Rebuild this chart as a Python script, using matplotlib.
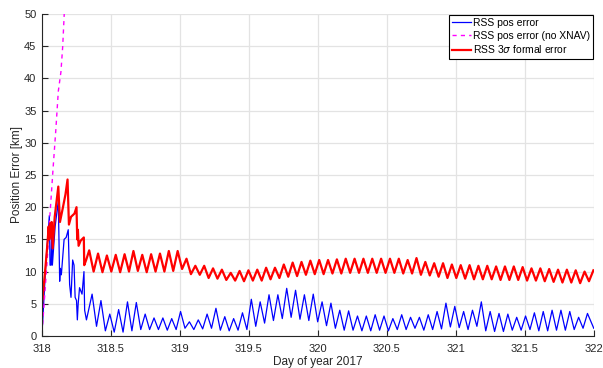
import matplotlib.pyplot as plt

plt.rcParams['font.family'] = ['Liberation Sans', 'DejaVu Sans']
plt.rcParams['mathtext.fontset'] = 'dejavusans'

ORBIT = 0.06413  # days per orbit

# start-up transient, read point by point
red_init_t = [318.000, 318.020, 318.040, 318.048, 318.053, 318.058, 318.064, 318.070,
              318.077, 318.092, 318.106, 318.118, 318.130, 318.150, 318.170, 318.185,
              318.195, 318.210, 318.235, 318.250, 318.255, 318.260, 318.265, 318.280,
              318.303, 318.306, 318.320]
red_init_v = [5.0, 9.5, 14.5, 17.0, 15.0, 17.5, 15.5, 17.7,
              13.6, 18.5, 21.0, 23.2, 17.7, 19.8, 22.0, 24.3,
              17.3, 18.5, 19.0, 20.0, 15.0, 16.5, 14.0, 14.8,
              15.3, 11.0, 11.8]

blue_init_t = [318.000, 318.012, 318.030, 318.045, 318.053, 318.058, 318.066, 318.070,
               318.075, 318.095, 318.118, 318.128, 318.133, 318.140, 318.160, 318.175,
               318.190, 318.200, 318.210, 318.222, 318.232, 318.240, 318.250, 318.256,
               318.262, 318.272, 318.290, 318.304, 318.309, 318.322]
blue_init_v = [0.5, 5.0, 12.0, 16.5, 18.7, 11.0, 11.0, 17.0,
               11.0, 17.0, 21.0, 8.5, 10.5, 9.5, 15.0, 15.3,
               16.5, 8.0, 6.0, 11.8, 11.0, 6.0, 5.5, 2.5,
               5.0, 7.5, 6.5, 10.0, 4.0, 2.5]

# per-orbit maxima / minima after the transient
red_start = 318.342
red_peaks = [13.3, 12.8, 12.5, 12.6, 12.7, 13.2, 12.6, 12.7, 12.8, 13.2,
             13.2, 12.0, 10.9, 10.9, 10.5, 10.3, 9.8, 10.1, 10.2, 10.3,
             10.6, 10.6, 11.1, 11.4, 11.5, 11.7, 11.8, 11.8, 11.9, 12.0,
             12.0, 12.0, 12.0, 12.0, 12.0, 12.0, 11.8, 12.1, 11.5, 11.3,
             11.3, 11.1, 11.0, 11.0, 10.9, 10.9, 10.8, 10.8, 10.8, 10.7,
             10.5, 10.5, 10.4, 10.3, 10.3, 10.2, 10.0, 10.2]
red_troughs = [10.0, 9.9, 10.0, 9.9, 10.0, 10.1, 9.9, 10.0, 10.0, 10.1,
               10.4, 9.6, 9.5, 9.0, 8.9, 8.7, 8.6, 8.5, 8.6, 8.6,
               8.8, 9.0, 9.2, 9.3, 9.5, 9.6, 9.6, 9.7, 9.7, 9.8,
               9.8, 9.8, 9.8, 9.8, 9.8, 9.7, 9.7, 9.5, 9.4, 9.2,
               9.0, 9.0, 8.9, 8.8, 8.8, 8.8, 8.7, 8.7, 8.7, 8.6,
               8.6, 8.5, 8.4, 8.3, 8.3, 8.2, 8.5]

blue_start = 318.363
blue_peaks = [6.5, 5.5, 3.4, 4.1, 5.3, 5.2, 3.4, 2.8, 2.8, 2.7,
              3.8, 2.2, 2.5, 3.4, 4.3, 3.0, 2.7, 3.6, 5.7, 5.3,
              6.4, 6.4, 7.4, 7.1, 6.4, 6.5, 5.3, 5.1, 4.0, 3.9,
              3.1, 3.1, 3.3, 3.1, 2.7, 3.3, 2.9, 2.9, 3.3, 3.8,
              5.1, 4.6, 3.8, 4.0, 5.3, 3.8, 3.5, 3.4, 2.9, 3.1,
              3.6, 3.8, 4.0, 4.0, 3.8, 2.9, 3.5]
blue_troughs = [1.5, 0.8, 0.6, 0.6, 0.8, 1.0, 1.0, 1.0, 0.9, 1.0,
                1.2, 1.0, 1.1, 1.2, 0.9, 0.8, 0.9, 1.0, 1.5, 2.0,
                2.4, 2.7, 2.9, 2.6, 2.4, 2.2, 1.6, 1.2, 0.9, 0.9,
                0.8, 0.8, 0.9, 0.8, 1.0, 1.0, 1.2, 0.9, 1.0, 1.1,
                1.4, 1.3, 1.0, 1.5, 0.8, 0.7, 0.7, 0.9, 0.9, 1.0,
                0.8, 0.8, 0.9, 0.9, 1.0, 1.2]
blue_end_t = [322.0]
blue_end_v = [1.2]

# run without XNAV updates
noxnav_t = [318.000, 318.015, 318.035, 318.058, 318.080, 318.100, 318.118, 318.137,
            318.150, 318.162]
noxnav_v = [0.5, 5.0, 11.0, 19.0, 26.0, 32.0, 38.0, 41.0, 45.0, 50.5]

xticks = [318, 318.5, 319, 319.5, 320, 320.5, 321, 321.5, 322]
xticklabels = ['318', '318.5', '319', '319.5', '320', '320.5', '321', '321.5', '322']
yticks = list(range(0, 51, 5))


def orbit_series(start, peaks, troughs):
    t, v = [], []
    for k, p in enumerate(peaks):
        t.append(start + k * ORBIT)
        v.append(p)
        if k < len(troughs):
            t.append(start + (k + 0.5) * ORBIT)
            v.append(troughs[k])
    return t, v


rt, rv = orbit_series(red_start, red_peaks, red_troughs)
bt, bv = orbit_series(blue_start, blue_peaks, blue_troughs)
red_t = red_init_t + rt
red_v = red_init_v + rv
blue_t = blue_init_t + bt + blue_end_t
blue_v = blue_init_v + bv + blue_end_v

fig = plt.figure(figsize=(6.03, 3.68), dpi=100)
ax = fig.add_axes([0.0697, 0.087, 0.915, 0.875])

ax.plot(blue_t, blue_v, color='#0000ff', lw=0.9, label='RSS pos error')
ax.plot(noxnav_t, noxnav_v, color='#ff00ff', lw=1.0, ls=(0, (3, 3)),
        label='RSS pos error (no XNAV)')
ax.plot(red_t, red_v, color='#ff0000', lw=1.6, label=r'RSS 3$\sigma$ formal error')

ax.set_xlim(318, 322)
ax.set_ylim(0, 50)
ax.set_xticks(xticks)
ax.set_xticklabels(xticklabels)
ax.set_yticks(yticks)
ax.grid(True, color='#e3e3e3', lw=0.9)
ax.set_axisbelow(True)
for s in ['top', 'right']:
    ax.spines[s].set_visible(False)
for s in ['left', 'bottom']:
    ax.spines[s].set_color('#262626')
    ax.spines[s].set_linewidth(0.8)
ax.tick_params(direction='in', length=4, width=0.8, colors='#262626',
               labelsize=8)
ax.tick_params(axis='x', pad=6)
ax.tick_params(axis='y', pad=4)

ax.set_xlabel('Day of year 2017', fontsize=8.5, color='#262626', labelpad=1.5)
ax.set_ylabel('Position Error [km]', fontsize=8.5, color='#262626', labelpad=1)

leg = ax.legend(loc='upper right', fontsize=7.5, frameon=True, fancybox=False,
                framealpha=1, edgecolor='black', borderpad=0.3, labelspacing=0.28,
                handlelength=1.9, handletextpad=0.15, borderaxespad=0.05)
leg.get_frame().set_linewidth(0.8)

fig.savefig('out.png', dpi=100)
